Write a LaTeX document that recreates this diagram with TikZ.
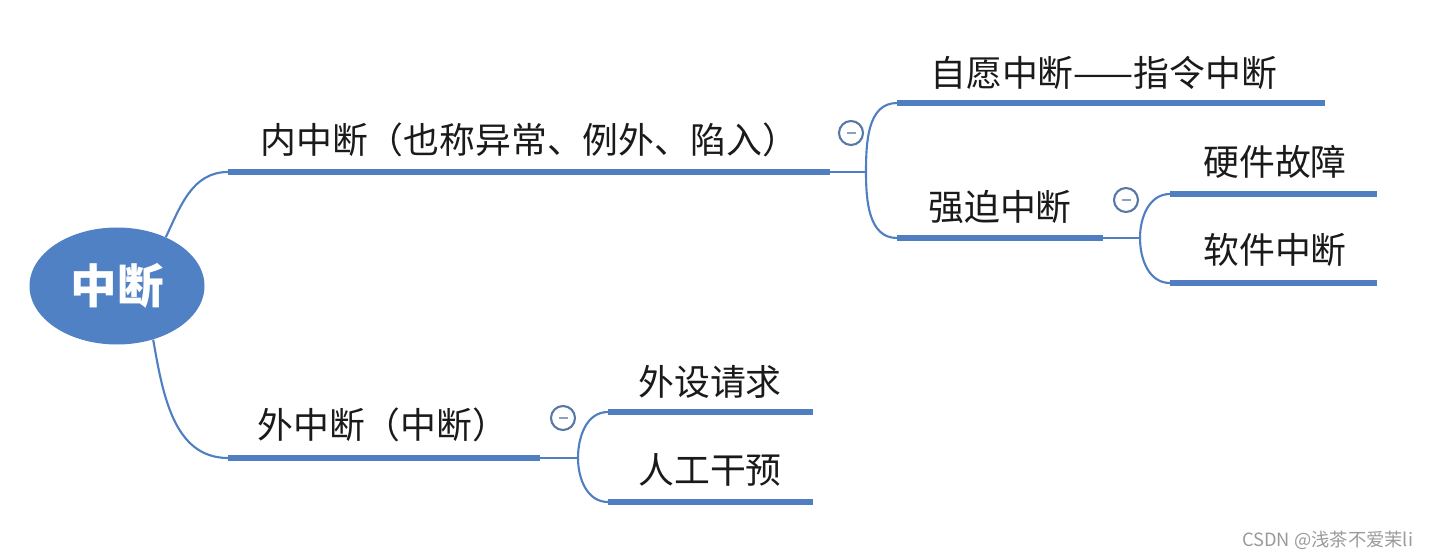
\documentclass[tikz,border=0pt]{standalone}
\usepackage{fontspec}
\setmainfont{Noto Sans CJK SC}
\usetikzlibrary{positioning,shapes.geometric,calc}
\definecolor{branch}  {HTML}{4F7EC1}
\definecolor{rootfill}{HTML}{4F81C4}
\definecolor{toggle}  {HTML}{5879A8}
\definecolor{ink}     {HTML}{1A1A1A}
\definecolor{mark}    {HTML}{9A9A9A}
\newlength{\unitpx}\setlength{\unitpx}{0.02cm}
\tikzset{
  every node/.style={inner sep=0pt, text=ink},
  % --- nodes
  rootnode/.style = {ellipse, fill=rootfill, minimum width=175\unitpx, minimum height=117\unitpx,
                     text=white, font=\fontsize{26.5}{30}\selectfont\bfseries},
  topic/.style    = {anchor=west, font=\fontsize{20.4}{24}\selectfont},
  fold/.style     = {circle, draw=toggle, line width=1.2pt, fill=white, minimum size=24\unitpx},
  wmark/.style    = {anchor=west, text=mark, font=\fontsize{10.4}{12}\selectfont},
  % --- edges
  bar/.style      = {draw=branch, line width=3.4pt},
  link/.style     = {draw=branch, line width=1.2pt},
}
\newcommand{\foldmark}[2]{%
  \node[fold] (#1) at #2 {};
  \draw[toggle!70, line width=1pt] ($(#1.center)+(-4.5,0)$) -- ($(#1.center)+(4.5,0)$);}

\begin{document}
\begin{tikzpicture}[x=0.02cm, y=-0.02cm]
  \useasboundingbox (0,0) rectangle (1437,557);

  % ------------------------------------------------------------------ root
  \node[rootnode] (root) at (117,286) {中断};

  % ------------------------------------------------------------------ inner
  \coordinate (inS) at (228,172);
  \coordinate (inE) at (830,172);
  \coordinate (inJ) at (866,172);
  \node[topic] (inner) at (260,140) {内中断（也称异常、例外、陷入）};
  \draw[link] (root.45) to[out=65, in=180] (inS);
  \draw[bar] (inS) -- (inE);
  \draw[link] (inE) -- (inJ);
  \foldmark{inF}{(851,133)}

  % --- voluntary
  \coordinate (volS) at (897,103);
  \coordinate (volE) at (1325,103);
  \node[topic] (vol) at (930,73) {自愿中断——指令中断};
  \draw[link] (inJ) to[out=90, in=180] (volS);
  \draw[bar] (volS) -- (volE);

  % --- forced
  \coordinate (forS) at (897,238);
  \coordinate (forE) at (1103,238);
  \coordinate (forJ) at (1140,238);
  \node[topic] (forced) at (928,207) {强迫中断};
  \draw[link] (inJ) to[out=-90, in=180] (forS);
  \draw[bar] (forS) -- (forE);
  \draw[link] (forE) -- (forJ);
  \foldmark{forF}{(1126,200)}

  \coordinate (hwS) at (1170,194);
  \coordinate (hwE) at (1377,194);
  \node[topic] (hw) at (1203,162) {硬件故障};
  \draw[link] (forJ) to[out=90, in=180] (hwS);
  \draw[bar] (hwS) -- (hwE);

  \coordinate (swS) at (1170,283);
  \coordinate (swE) at (1377,283);
  \node[topic] (sw) at (1203,250) {软件中断};
  \draw[link] (forJ) to[out=-90, in=180] (swS);
  \draw[bar] (swS) -- (swE);

  % ------------------------------------------------------------------ outer
  \coordinate (exS) at (228,458);
  \coordinate (exE) at (540,458);
  \coordinate (exJ) at (578,458);
  \node[topic] (outer) at (257,425) {外中断（中断）};
  \draw[link] (root.-56) to[out=-80, in=180] (exS);
  \draw[bar] (exS) -- (exE);
  \draw[link] (exE) -- (exJ);
  \foldmark{exF}{(563,418)}

  \coordinate (devS) at (608,412);
  \coordinate (devE) at (813,412);
  \node[topic] (dev) at (638,382) {外设请求};
  \draw[link] (exJ) to[out=90, in=180] (devS);
  \draw[bar] (devS) -- (devE);

  \coordinate (manS) at (608,502);
  \coordinate (manE) at (813,502);
  \node[topic] (man) at (638,470) {人工干预};
  \draw[link] (exJ) to[out=-90, in=180] (manS);
  \draw[bar] (manS) -- (manE);

  \node[wmark] (credit) at (1242,540) {CSDN @浅茶不爱茉li};
\end{tikzpicture}
\end{document}
